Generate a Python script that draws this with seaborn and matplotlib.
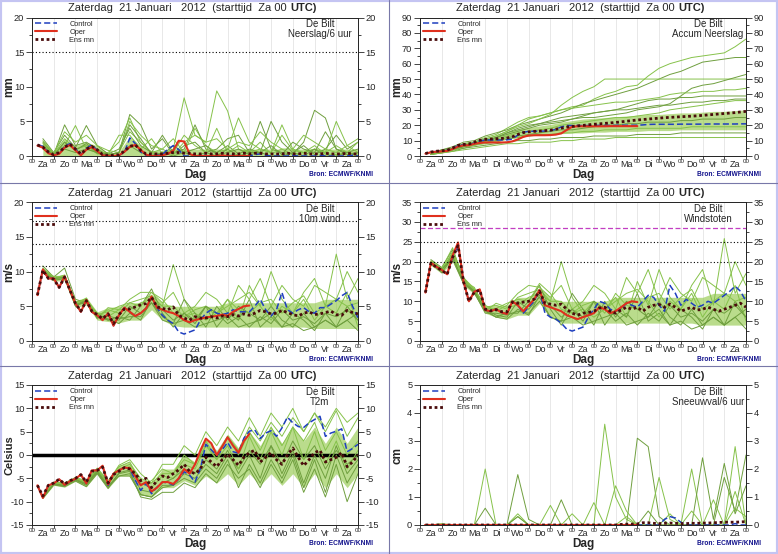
import numpy as np
import pandas as pd
import seaborn as sns
import matplotlib.pyplot as plt
from matplotlib.lines import Line2D
from matplotlib.patches import Rectangle

sns.set_style("ticks")
plt.rcParams['font.family'] = ['Liberation Sans', 'DejaVu Sans']
plt.rcParams['axes.unicode_minus'] = False

# tijdas: 6-uurs stappen, oper tot dag 10, leden op 12-uurs stappen
uren = list(range(6, 361, 6))
uren_oper = list(range(6, 241, 6))
uren_12 = list(range(12, 361, 12))
dagen = ["Za", "Zo", "Ma", "Di", "Wo", "Do", "Vr", "Za", "Zo", "Ma", "Di", "Wo", "Do", "Vr", "Za"]
titel = "Zaterdag  21 Januari   2012  (starttijd  Za 00 "

# ---------------- Neerslag/6 uur ----------------
ctrl_neerslag = [1.6, 1.4, 0.5, 0.1, 0.4, 1.4, 1.8, 1.0, 0.2, 1.1,
                 1.6, 0.8, 0.1, 0.0, 0.0, 0.1, 0.5, 2.6, 1.8, 0.6,
                 0.1, 0.0, 0.1, 0.2, 1.0, 1.5, 0.9, 0.0, 0.0, 0.0,
                 0.0, 0.1, 0.0, 0.0, 0.0, 0.0, 0.1, 0.0, 0.0, 0.0,
                 0.2, 0.3, 0.1, 0.0, 0.0, 0.0, 0.0, 0.1, 0.0, 0.0,
                 0.0, 0.0, 0.1, 0.0, 0.0, 0.0, 0.0, 0.0, 0.1, 0.0]
oper_neerslag = [1.5, 1.2, 0.4, 0.1, 0.3, 1.2, 1.6, 0.8, 0.1, 0.9,
                 1.3, 0.7, 0.1, 0.0, 0.0, 0.1, 0.6, 1.3, 1.6, 0.9,
                 0.2, 0.0, 0.0, 0.1, 0.3, 0.8, 2.2, 2.1, 0.3, 0.0,
                 0.0, 0.0, 0.0, 0.0, 0.1, 0.0, 0.0, 0.0, 0.0, 0.0]
mean_neerslag = [1.6, 1.3, 0.6, 0.2, 0.5, 1.3, 1.7, 1.0, 0.3, 1.0,
                 1.4, 0.9, 0.2, 0.1, 0.1, 0.2, 0.7, 1.4, 1.6, 0.8,
                 0.3, 0.3, 0.3, 0.3, 0.4, 0.5, 0.5, 0.4, 0.4, 0.3,
                 0.3, 0.4, 0.3, 0.3, 0.4, 0.3, 0.3, 0.3, 0.4, 0.3,
                 0.4, 0.4, 0.3, 0.3, 0.3, 0.3, 0.4, 0.3, 0.3, 0.4,
                 0.3, 0.3, 0.3, 0.4, 0.3, 0.3, 0.3, 0.4, 0.3, 0.3]
leden_neerslag = [
    [1.5, 0.3, 2.5, 1.0, 1.5, 0.8, 0.2, 0.5, 3.5, 2.0, 0.5, 0.3, 1.0, 8.4, 3.0, 2.0, 9.4, 6.5, 1.0, 0.5, 2.0, 0.3, 1.0, 0.2, 0.5, 1.5, 0.3, 0.2, 0.5, 0.3],
    [2.0, 0.2, 4.5, 1.5, 2.0, 1.0, 0.1, 0.5, 6.0, 4.5, 1.0, 2.5, 0.2, 1.5, 2.0, 0.5, 1.0, 2.5, 3.0, 0.5, 5.0, 1.0, 0.5, 0.3, 2.0, 6.6, 5.5, 1.0, 0.5, 1.0],
    [1.2, 0.3, 1.5, 4.4, 1.0, 0.5, 0.5, 2.0, 5.5, 2.0, 0.5, 1.0, 2.5, 0.5, 4.0, 1.5, 0.5, 1.0, 5.5, 2.0, 1.0, 0.5, 3.0, 0.8, 0.5, 1.0, 0.5, 5.0, 1.5, 0.5],
    [2.5, 0.5, 3.0, 1.2, 4.4, 1.5, 0.3, 1.0, 4.0, 1.5, 0.5, 3.0, 0.5, 1.0, 4.5, 1.0, 0.5, 1.5, 0.3, 1.0, 0.5, 5.0, 2.0, 0.5, 1.5, 0.2, 1.0, 3.0, 1.0, 2.0],
    [1.8, 0.2, 2.0, 1.0, 1.5, 0.3, 0.2, 3.0, 3.0, 1.0, 2.5, 0.3, 0.5, 3.0, 1.5, 0.5, 4.0, 0.5, 1.5, 0.5, 1.0, 0.5, 4.5, 1.0, 0.5, 1.0, 0.5, 1.5, 0.5, 2.0],
    [1.0, 0.0, 1.0, 0.5, 1.0, 0.5, 0.0, 0.0, 1.5, 0.5, 0.0, 0.5, 0.0, 0.5, 0.0, 0.5, 0.0, 1.0, 0.0, 0.5, 0.5, 0.0, 0.0, 0.5, 0.0, 1.0, 0.0, 0.0, 0.5, 0.0],
    [2.2, 0.4, 3.5, 2.0, 3.0, 1.5, 0.8, 0.5, 5.0, 3.0, 1.5, 1.0, 0.2, 2.0, 3.0, 2.0, 2.5, 1.0, 2.0, 1.5, 3.5, 2.0, 1.0, 1.0, 3.0, 2.0, 1.0, 0.5, 1.5, 2.5],
    [1.4, 0.1, 2.0, 0.8, 1.8, 0.4, 0.2, 0.5, 4.5, 2.5, 0.3, 0.2, 1.5, 0.5, 1.0, 1.5, 0.2, 0.5, 1.0, 0.2, 0.5, 1.5, 0.2, 2.0, 1.0, 0.5, 3.5, 1.0, 0.2, 0.5],
]
band_lo_neerslag = [0.0] * 30
band_hi_neerslag = [2.2, 0.5, 2.5, 1.5, 2.0, 1.5, 0.4, 0.6, 2.8, 1.5, 0.8, 0.8, 1.0, 1.0, 1.0,
                    1.0, 1.0, 1.0, 1.0, 1.0, 1.0, 1.0, 1.0, 1.0, 1.0, 1.0, 1.0, 1.0, 1.0, 1.0]

# ---------------- Accum Neerslag ----------------
ctrl_accum = [1.5, 2.5, 3.0, 3.3, 3.6, 5.0, 6.8, 7.3, 7.4, 8.5,
              9.8, 10.3, 10.4, 10.4, 10.4, 10.5, 11.0, 13.6, 15.4, 16.0,
              16.1, 16.1, 16.2, 16.4, 17.4, 18.9, 19.8, 19.8, 19.8, 19.8,
              19.8, 19.9, 19.9, 19.9, 19.9, 19.9, 20.0, 20.0, 20.0, 20.0,
              20.2, 20.5, 20.6, 20.6, 20.6, 20.6, 20.6, 20.7, 20.7, 20.7,
              20.7, 20.7, 20.8, 20.8, 20.8, 20.8, 20.8, 20.8, 20.9, 20.9]
oper_accum = [1.5, 2.4, 2.8, 3.0, 3.3, 4.5, 6.1, 6.9, 7.0, 7.9,
              8.5, 8.8, 8.8, 8.8, 8.8, 8.9, 9.5, 10.8, 12.4, 13.3,
              13.5, 13.5, 13.5, 13.6, 13.9, 14.7, 16.9, 19.0, 19.3, 19.3,
              19.3, 19.3, 19.3, 19.3, 19.4, 19.4, 19.4, 19.4, 19.4, 19.4]
mean_accum = [1.6, 2.6, 3.1, 3.4, 3.8, 5.2, 6.9, 7.5, 7.8, 9.0,
              10.2, 10.8, 11.0, 11.2, 11.4, 11.7, 12.5, 14.0, 15.2, 15.7,
              16.0, 16.2, 16.5, 16.8, 17.4, 18.1, 18.8, 19.2, 19.6, 19.9,
              20.3, 20.6, 20.9, 21.2, 21.5, 21.8, 22.2, 22.6, 23.0, 23.4,
              23.7, 24.0, 24.3, 24.6, 24.9, 25.1, 25.3, 25.5, 25.7, 25.9,
              26.1, 26.4, 26.7, 27.0, 27.3, 27.6, 27.9, 28.2, 28.6, 29.0]
leden_accum = [
    [2, 4, 5, 8, 9, 12, 14, 18, 22, 25, 26, 28, 30, 32, 33, 37, 40, 42, 45, 46, 52, 57, 60, 62, 64, 65, 66, 67, 71, 76],
    [2, 4, 6, 9, 10, 13, 15, 17, 20, 22, 24, 26, 28, 31, 34, 36, 38, 40, 42, 44, 47, 50, 53, 55, 58, 61, 62, 63, 64, 64],
    [2, 3, 5, 8, 9, 11, 13, 16, 19, 21, 24, 27, 33, 38, 42, 45, 50, 50, 50, 50, 50, 50, 50, 50, 50, 50, 50, 50, 50, 50],
    [1, 3, 4, 7, 8, 10, 12, 15, 18, 20, 21, 22, 23, 24, 25, 25, 26, 27, 28, 30, 31, 32, 34, 39, 44, 46, 47, 49, 51, 53],
    [2, 3, 5, 7, 9, 11, 13, 16, 20, 24, 26, 28, 30, 31, 32, 33, 34, 35, 35, 36, 37, 38, 40, 41, 41, 42, 42, 43, 43, 44],
    [1, 3, 4, 6, 8, 10, 12, 14, 16, 18, 20, 21, 22, 24, 26, 28, 29, 30, 32, 34, 36, 37, 37, 38, 38, 39, 39, 39, 39, 39],
    [2, 3, 5, 7, 8, 10, 11, 13, 15, 16, 17, 18, 20, 21, 22, 23, 24, 25, 25, 26, 27, 28, 30, 31, 32, 33, 34, 35, 36, 36],
    [1, 3, 4, 6, 7, 9, 10, 12, 13, 14, 15, 16, 17, 17, 18, 19, 20, 20, 21, 21, 22, 22, 22, 23, 23, 24, 24, 24, 25, 25],
    [1, 2, 4, 5, 7, 8, 9, 11, 12, 13, 14, 14, 15, 15, 16, 16, 17, 17, 17, 18, 18, 18, 18, 18, 19, 19, 19, 19, 19, 19],
    [1, 2, 3, 5, 6, 7, 8, 9, 10, 10, 11, 11, 12, 12, 12, 13, 13, 13, 13, 14, 14, 14, 14, 15, 15, 15, 15, 15, 15, 15],
    [1, 2, 3, 4, 5, 6, 7, 8, 8, 9, 9, 9, 10, 10, 11, 11, 11, 12, 12, 12, 12, 12, 12, 12, 12, 12, 12, 12, 12, 12],
    [2, 3, 5, 7, 8, 10, 12, 15, 17, 19, 21, 23, 25, 26, 27, 28, 29, 30, 30, 31, 32, 33, 33, 34, 35, 35, 36, 36, 37, 37],
]
band_lo_accum = [1.5, 3, 4, 6, 7, 8.5, 9.5, 11, 12, 13, 13.5, 14, 14.5, 15, 15, 15.5, 15.5, 16, 16, 16,
                 16.5, 16.5, 16.5, 17, 17, 17, 17, 17, 17, 17]
band_hi_accum = [2.5, 4, 5.5, 8, 9, 11, 12, 15, 17.5, 18.5, 19.5, 20.5, 22, 23, 24, 24.5, 25, 25.5, 26, 26.5,
                 27, 27, 27.5, 28, 28, 28.5, 29, 29, 29.5, 30]

# ---------------- 10m wind ----------------
ctrl_wind = [6.6, 10.3, 9.0, 9.0, 7.7, 9.3, 7.3, 5.4, 4.2, 5.9,
             4.2, 3.7, 3.0, 4.0, 2.2, 3.7, 4.8, 4.2, 3.6, 4.0,
             4.7, 6.4, 4.8, 3.7, 3.0, 2.5, 1.3, 1.0, 1.3, 1.6,
             3.0, 4.0, 4.5, 4.0, 3.8, 4.0, 4.5, 4.2, 4.2, 4.2,
             5.0, 6.0, 4.5, 3.6, 4.5, 7.0, 4.5, 4.0, 4.5, 4.8,
             4.2, 4.0, 4.8, 4.8, 5.3, 5.8, 6.5, 7.0, 5.0, 3.3]
oper_wind = [6.6, 10.3, 9.0, 9.0, 7.7, 9.3, 7.3, 5.4, 4.2, 5.9,
             4.2, 3.7, 3.0, 4.0, 2.2, 3.7, 4.8, 4.2, 3.6, 4.0,
             4.7, 6.4, 4.8, 4.5, 4.2, 4.0, 3.6, 3.0, 2.7, 3.0,
             3.2, 3.4, 3.5, 3.6, 3.8, 3.6, 4.2, 4.6, 5.0, 5.1]
mean_wind = [6.6, 10.2, 9.0, 8.9, 7.7, 9.2, 7.3, 5.4, 4.3, 5.8,
             4.3, 3.8, 3.2, 3.9, 2.5, 3.8, 4.6, 4.6, 4.9, 5.2,
             5.4, 6.3, 4.9, 4.7, 4.5, 4.9, 3.7, 3.3, 3.0, 3.5,
             3.3, 3.3, 3.5, 3.3, 3.6, 3.5, 3.8, 3.6, 3.9, 3.7,
             4.0, 4.4, 4.2, 3.9, 4.0, 4.4, 4.1, 3.8, 3.6, 4.0,
             4.2, 3.8, 3.9, 4.1, 4.3, 3.8, 3.7, 4.4, 4.1, 3.9]
leden_wind = [
    [10.5, 9.0, 9.5, 5.5, 6.0, 3.5, 4.5, 4.0, 5.5, 6.0, 6.5, 5.0, 11.0, 6.0, 3.0, 5.0, 4.0, 6.0, 3.0, 8.0, 5.0, 10.0, 6.0, 4.0, 7.0, 9.0, 5.0, 12.5, 6.0, 9.0],
    [10.8, 9.2, 10.5, 6.0, 5.5, 4.0, 3.0, 3.5, 3.0, 5.0, 7.5, 4.0, 2.0, 4.0, 3.0, 5.0, 2.0, 4.0, 3.0, 6.0, 2.0, 3.5, 2.0, 4.0, 3.0, 1.5, 4.0, 2.0, 5.0, 3.0],
    [10.0, 8.8, 9.0, 5.0, 6.2, 3.2, 4.8, 4.5, 4.5, 5.5, 6.0, 5.0, 5.0, 3.5, 4.0, 3.0, 4.0, 5.0, 6.0, 7.0, 5.0, 3.0, 5.0, 4.0, 6.0, 3.0, 5.0, 4.0, 7.0, 2.0],
    [10.2, 9.0, 9.2, 5.2, 5.5, 3.5, 3.0, 3.0, 5.0, 4.0, 5.5, 3.0, 2.5, 6.0, 4.0, 2.0, 5.0, 3.0, 5.0, 4.0, 3.0, 5.0, 3.0, 2.0, 4.0, 2.0, 3.0, 2.0, 3.0, 4.0],
    [10.4, 8.9, 9.4, 5.6, 6.0, 4.0, 3.5, 4.5, 6.0, 7.0, 7.0, 5.5, 7.0, 4.0, 5.0, 7.0, 6.0, 4.0, 8.0, 6.0, 9.0, 5.0, 8.0, 6.0, 5.0, 8.0, 7.0, 6.0, 10.0, 7.0],
    [9.8, 9.0, 9.1, 5.0, 5.8, 3.3, 3.6, 3.2, 3.5, 3.5, 5.5, 3.5, 2.5, 3.0, 2.0, 2.5, 3.0, 3.5, 2.0, 2.5, 3.0, 4.0, 2.0, 2.5, 1.5, 2.0, 3.0, 2.0, 3.0, 1.5],
    [10.3, 9.3, 9.3, 5.4, 6.1, 3.8, 4.2, 5.0, 5.5, 5.0, 7.0, 6.0, 4.0, 3.5, 4.5, 5.0, 3.5, 6.0, 4.5, 4.0, 5.5, 6.0, 4.0, 5.5, 6.5, 4.0, 5.0, 6.0, 5.0, 5.5],
    [10.1, 8.7, 9.0, 5.3, 5.7, 3.4, 3.2, 2.5, 4.0, 3.0, 6.0, 4.5, 3.0, 4.0, 2.5, 5.0, 4.0, 2.5, 3.5, 2.0, 3.5, 2.5, 4.5, 3.0, 3.5, 2.5, 4.0, 3.5, 4.5, 3.0],
]
band_lo_wind = [9.7, 8.6, 8.7, 4.8, 5.2, 3.0, 2.8, 2.6, 3.0, 3.0, 4.5, 3.0, 2.2, 2.0, 2.0,
                2.0, 2.0, 2.0, 2.0, 2.0, 2.0, 2.0, 2.0, 2.0, 2.0, 1.8, 1.8, 1.8, 1.8, 1.8]
band_hi_wind = [10.6, 9.3, 9.6, 5.8, 6.3, 4.2, 4.8, 5.0, 5.5, 5.5, 6.8, 5.5, 5.0, 5.0, 5.0,
                5.0, 5.0, 5.5, 5.5, 5.5, 5.5, 5.5, 5.5, 5.5, 5.5, 5.5, 6.0, 6.0, 6.0, 6.0]
drempels_wind = [10.8, 13.9, 17.2]

# ---------------- Windstoten ----------------
ctrl_stoot = [12.2, 19.7, 18.7, 17.9, 16.8, 21.0, 24.0, 15.0, 10.0, 12.4,
              13.0, 7.8, 7.5, 8.0, 7.2, 6.8, 10.0, 9.0, 7.0, 8.5,
              10.0, 12.8, 7.0, 6.0, 5.5, 4.5, 3.0, 2.5, 3.0, 3.5,
              6.0, 8.0, 10.0, 9.5, 8.0, 7.5, 8.0, 9.5, 9.0, 8.5,
              10.0, 11.5, 11.0, 9.0, 7.5, 14.0, 12.0, 9.0, 10.5, 9.5,
              8.5, 9.0, 10.0, 9.5, 10.5, 11.5, 12.5, 13.8, 12.5, 10.0]
oper_stoot = [12.2, 19.7, 18.7, 17.9, 16.8, 21.5, 24.8, 15.0, 10.0, 12.4,
              13.0, 7.8, 7.5, 8.0, 7.2, 6.8, 10.0, 9.0, 7.5, 9.0,
              10.5, 12.8, 9.0, 8.5, 8.0, 7.5, 6.5, 6.0, 5.5, 6.0,
              6.5, 7.0, 8.5, 8.0, 7.0, 7.5, 8.5, 9.5, 10.0, 9.8]
mean_stoot = [12.2, 19.6, 18.6, 17.8, 16.8, 21.0, 24.0, 15.0, 10.0, 12.3,
              12.8, 8.0, 7.6, 7.9, 7.4, 7.3, 9.8, 9.5, 9.8, 10.0,
              10.5, 12.5, 9.5, 9.3, 9.0, 9.3, 8.0, 7.0, 6.5, 7.0,
              7.2, 7.5, 8.3, 8.5, 7.5, 7.0, 7.8, 8.5, 8.0, 8.5,
              7.5, 8.5, 9.0, 9.2, 8.5, 9.3, 8.5, 7.5, 8.0, 8.5,
              7.8, 8.0, 8.5, 8.0, 7.5, 8.0, 8.5, 9.0, 9.5, 8.5]
leden_stoot = [
    [20.0, 18.0, 22.0, 15.5, 13.0, 8.5, 9.0, 8.0, 11.0, 12.0, 13.0, 10.0, 20.0, 11.0, 7.0, 10.0, 8.0, 11.0, 6.0, 15.0, 9.0, 18.0, 11.0, 8.0, 14.0, 18.0, 9.0, 25.8, 12.0, 17.0],
    [20.5, 18.5, 23.0, 16.0, 12.0, 7.5, 6.0, 7.0, 7.0, 10.0, 14.0, 8.0, 4.0, 8.0, 6.0, 10.0, 4.0, 8.0, 6.0, 12.0, 5.0, 7.0, 4.0, 8.0, 6.0, 3.0, 8.0, 4.0, 10.0, 6.0],
    [19.5, 17.5, 21.0, 15.0, 13.5, 7.5, 9.5, 8.5, 9.0, 11.0, 12.0, 10.0, 10.0, 7.0, 8.0, 6.0, 8.0, 10.0, 12.0, 13.0, 10.0, 6.0, 10.0, 8.0, 12.0, 6.0, 10.0, 8.0, 14.0, 5.0],
    [19.8, 17.8, 21.5, 14.5, 12.5, 8.0, 6.5, 6.0, 10.0, 8.0, 11.0, 6.0, 5.0, 12.0, 8.0, 4.0, 10.0, 6.0, 10.0, 8.0, 6.0, 10.0, 6.0, 4.0, 8.0, 4.0, 6.0, 4.0, 6.0, 8.0],
    [20.2, 17.6, 22.5, 16.0, 13.0, 9.0, 7.5, 9.0, 12.0, 14.0, 13.5, 11.0, 14.0, 8.0, 10.0, 14.0, 12.0, 8.0, 16.0, 12.0, 18.0, 10.0, 16.0, 12.0, 10.0, 16.0, 14.0, 12.0, 20.0, 14.0],
    [19.2, 18.2, 20.5, 14.5, 12.2, 7.0, 7.0, 6.5, 7.5, 7.0, 10.0, 6.0, 5.0, 6.0, 4.0, 5.0, 6.0, 7.0, 4.0, 5.0, 6.0, 8.0, 4.0, 5.0, 3.0, 4.0, 6.0, 4.0, 6.0, 3.0],
    [20.0, 18.3, 23.5, 15.2, 12.8, 8.3, 8.2, 9.5, 10.5, 10.0, 14.5, 12.0, 8.0, 7.0, 9.0, 10.0, 7.0, 12.0, 9.0, 8.0, 11.0, 12.0, 8.0, 11.0, 13.0, 8.0, 10.0, 12.0, 10.0, 11.0],
    [19.6, 17.2, 21.0, 14.8, 12.6, 7.8, 6.0, 5.5, 8.0, 6.5, 11.5, 9.0, 6.0, 8.0, 5.0, 10.0, 8.0, 5.0, 7.0, 4.0, 7.0, 5.0, 9.0, 6.0, 7.0, 5.0, 8.0, 7.0, 9.0, 6.0],
]
band_lo_stoot = [19.0, 17.0, 20.0, 14.0, 11.8, 7.0, 6.0, 5.5, 6.5, 6.5, 9.5, 6.0, 4.5, 4.5, 4.5,
                 4.5, 4.5, 4.5, 4.5, 4.5, 4.5, 4.5, 4.5, 4.5, 4.5, 4.0, 4.0, 4.0, 4.0, 4.0]
band_hi_stoot = [20.5, 18.5, 23.0, 16.0, 13.5, 8.8, 9.0, 9.0, 11.0, 11.0, 13.5, 11.0, 10.0, 10.0, 10.0,
                 10.0, 10.0, 11.0, 11.0, 11.0, 11.0, 11.0, 11.0, 11.0, 11.0, 11.0, 12.0, 12.0, 12.0, 12.0]
drempels_stoot = [20, 25]
storm_stoot = 28.5

# ---------------- T2m ----------------
ctrl_t2m = [-6.5, -9.0, -6.5, -6.1, -5.2, -6.4, -5.6, -5.1, -4.2, -6.1,
            -3.3, -3.3, -2.5, -6.5, -4.0, -3.3, -2.7, -2.9, -5.4, -7.6,
            -6.1, -8.3, -6.9, -5.8, -6.0, -6.4, -5.1, -3.6, -4.3, -5.8,
            -2.9, 2.3, 1.1, -0.1, 1.1, 2.7, 0.7, 0.4, 3.6, 5.1,
            5.4, 3.5, 4.7, 5.2, 4.0, 5.8, 8.1, 6.9, 6.1, 5.9,
            6.9, 7.6, 8.3, 4.0, 4.7, 5.1, 5.6, 0.7, 1.4, 2.3]
oper_t2m = [-6.5, -9.2, -6.5, -6.1, -5.2, -6.4, -5.6, -5.1, -4.2, -6.1,
            -3.3, -3.3, -2.3, -6.3, -4.0, -3.3, -2.7, -2.8, -4.5, -6.5,
            -5.8, -7.8, -7.0, -5.8, -5.8, -6.2, -5.0, -3.0, -4.0, -2.0,
            1.0, 3.5, 2.5, 0.0, 1.8, 3.8, 2.0, 0.5, 3.0, 4.5]
mean_t2m = [-6.5, -8.8, -6.5, -6.0, -5.2, -6.2, -5.5, -5.0, -4.2, -5.8,
            -3.5, -3.3, -2.6, -6.0, -4.2, -3.5, -2.7, -3.0, -4.0, -5.5,
            -5.0, -7.0, -5.5, -4.5, -4.8, -4.0, -3.2, -2.0, -3.5, -4.0,
            -3.0, -0.5, -1.5, -2.5, -1.0, 0.2, -1.0, -2.2, -0.5, 0.5,
            1.0, -1.5, -0.5, 0.5, -1.0, -2.0, 0.0, 1.5, -0.5, -2.3,
            -1.0, 0.5, 1.0, -1.5, -1.0, -0.5, 0.5, -2.5, -1.5, 0.0]
leden_t2m = [
    [-9.0, -6.0, -6.2, -5.0, -6.0, -3.0, -6.0, -3.0, -2.0, -5.0, -6.0, -4.0, -4.0, -1.0, -2.0, 2.0, 0.0, 4.0, 1.0, 6.0, 3.0, 7.0, 4.0, 8.0, 5.0, 9.0, 5.0, 9.5, 4.0, 8.0],
    [-9.2, -6.3, -6.6, -5.4, -6.5, -3.8, -7.0, -4.5, -4.0, -8.5, -9.0, -7.0, -6.5, -4.0, -5.0, -2.0, -4.0, 0.0, -3.0, 1.0, -2.0, 2.0, -2.0, 3.0, -1.0, 2.0, -3.0, 1.0, -2.0, 0.0],
    [-8.8, -5.8, -6.0, -4.8, -5.5, -2.8, -5.5, -2.5, -1.5, -6.0, -7.0, -4.5, -5.0, -2.0, -3.0, 2.0, -1.0, 4.0, 0.0, 5.0, 1.0, 6.0, 2.0, 6.0, 3.0, 7.0, 1.0, 5.0, 0.0, 3.0],
    [-9.1, -6.2, -6.5, -5.3, -6.3, -3.6, -6.8, -4.0, -3.5, -9.0, -9.5, -8.0, -8.0, -6.0, -7.0, -4.0, -6.0, -2.0, -5.0, -3.0, -7.0, -2.0, -6.0, -1.0, -8.0, -3.0, -9.0, -2.0, -10.0, -4.0],
    [-8.9, -6.1, -6.3, -5.1, -6.1, -3.2, -6.3, -3.2, -2.5, -6.5, -5.5, -3.0, -4.0, 0.0, -2.0, 3.0, -1.0, 2.0, -3.0, 4.0, -1.0, 5.0, 0.0, 6.0, -1.0, 5.0, -2.0, 3.0, -3.0, 1.0],
    [-9.3, -6.4, -6.8, -5.6, -6.8, -4.0, -7.2, -3.8, -3.2, -7.5, -8.0, -6.0, -5.0, -3.0, -4.0, -1.0, -3.0, 1.0, -4.0, 0.0, -5.0, 2.0, -4.0, 1.0, -6.0, 0.0, -5.0, 2.0, -4.0, -1.0],
    [-8.7, -5.9, -6.1, -4.9, -5.8, -3.0, -5.8, -2.2, -1.0, -4.0, -6.0, -2.0, -2.0, 2.0, 0.0, 5.0, 2.0, 6.0, 3.0, 8.0, 4.0, 9.0, 6.0, 10.0, 5.0, 9.0, 6.0, 10.0, 7.0, 9.0],
    [-9.0, -6.2, -6.5, -5.2, -6.2, -3.4, -6.6, -4.5, -4.5, -8.5, -9.0, -6.5, -6.5, -5.0, -6.0, -3.0, -5.0, -1.0, -7.0, -2.0, -6.0, -1.0, -5.0, 0.0, -7.0, -1.0, -8.0, 0.0, -6.0, -2.0],
]
band_lo_t2m = [-9.3, -6.5, -6.9, -5.6, -6.8, -4.0, -7.2, -4.5, -4.5, -8.5, -9.0, -7.0, -7.0, -5.5, -6.5,
               -4.5, -6.0, -4.0, -6.5, -4.0, -6.5, -4.0, -6.5, -4.0, -7.0, -4.0, -7.0, -4.0, -7.0, -4.0]
band_hi_t2m = [-8.7, -5.8, -6.0, -4.8, -5.6, -2.8, -5.6, -2.2, -1.5, -5.0, -6.0, -3.0, -3.0, 0.0, -1.5,
               3.5, 1.0, 4.5, 1.5, 5.0, 2.0, 6.0, 2.5, 6.0, 3.0, 6.0, 2.5, 6.0, 2.5, 6.0]

# ---------------- Sneeuwval/6 uur ----------------
ctrl_sneeuw = [0, 0, 0, 0, 0, 0, 0, 0, 0, 0,
               0, 0, 0, 0, 0, 0, 0, 0, 0, 0,
               0, 0, 0, 0, 0, 0, 0, 0, 0, 0,
               0, 0, 0, 0, 0, 0, 0, 0, 0, 0,
               0, 0, 0, 0, 0.2, 0.3, 0.25, 0.1, 0, 0,
               0, 0, 0, 0, 0, 0, 0, 0.05, 0, 0]
oper_sneeuw = [0, 0, 0, 0, 0, 0, 0, 0, 0, 0,
               0, 0, 0, 0, 0, 0, 0, 0, 0, 0,
               0, 0, 0, 0, 0, 0, 0, 0, 0, 0,
               0, 0, 0, 0, 0, 0, 0, 0, 0, 0]
mean_sneeuw = [0, 0, 0, 0, 0, 0, 0, 0, 0, 0,
               0, 0, 0, 0, 0, 0, 0, 0, 0, 0,
               0, 0, 0, 0, 0, 0, 0, 0, 0, 0,
               0, 0, 0, 0, 0, 0, 0.02, 0.03, 0.03, 0.04,
               0.08, 0.08, 0.06, 0.05, 0.06, 0.07, 0.06, 0.05, 0.05, 0.06,
               0.06, 0.07, 0.07, 0.08, 0.09, 0.1, 0.1, 0.1, 0.11, 0.12]
leden_sneeuw = [
    [0, 0, 0, 0, 0, 2.0, 0, 0, 0.3, 0, 0, 0, 0, 0, 0, 0, 3.6, 1.0, 0.2, 0, 0, 0, 0, 0, 0, 0, 0, 0, 2.8, 0],
    [0, 0, 0, 0, 0, 0.6, 0, 0, 1.8, 0.2, 0, 0, 0.9, 0, 0, 0, 0, 0, 0, 3.1, 2.8, 0.3, 0, 0, 0, 0, 0, 1.7, 0.5, 2.5],
    [0, 0.05, 0, 0, 0, 0, 0, 0, 0.4, 0, 0, 0.7, 0, 0, 0, 0.8, 0, 1.4, 0.5, 0, 0, 1.7, 0.2, 0, 2.0, 0, 0, 0, 1.2, 0],
    [0, 0, 0, 0, 0, 0, 0, 0, 0.3, 0, 0, 0, 0, 0, 0, 0, 0, 0, 0, 0, 0.5, 0, 0, 0, 0, 2.4, 0.2, 2.2, 0.4, 1.4],
    [0, 0, 0, 0, 0, 0, 0, 0, 0, 0, 0, 0, 0, 0.4, 0, 0, 0, 0, 0.3, 0, 0, 0, 0.4, 0, 0.5, 0, 0.9, 0, 0.6, 0.3],
]

GROEN = ["#86c24a", "#6f9f3e"]
KERN = "#8cc63f"
BLAUW = "#1f3fbf"
ROOD = "#e0301e"
BRUIN = "#4a0c0c"


def panel(ax, ctrl, oper, mean, leden, blo, bhi, ymin, ymax, stap, naam, eenheid,
          labelx=-0.052, labelsize=8.5):
    if bhi is not None:
        ax.fill_between(uren_12, blo, bhi, color=KERN, alpha=0.6, lw=0)
    for k, lid in enumerate(leden):
        sns.lineplot(x=uren_12, y=lid, ax=ax, color=GROEN[k % 2], lw=0.7)
    sns.lineplot(x=uren, y=ctrl, ax=ax, color=BLAUW, lw=1.1, linestyle=(0, (4, 2)), label="Control")
    sns.lineplot(x=uren_oper, y=oper, ax=ax, color=ROOD, lw=1.5, label="Oper")
    sns.lineplot(x=uren, y=mean, ax=ax, color=BRUIN, lw=2.0, linestyle=(0, (1, 1)), label="Ens mn")

    ax.set_xlim(0, 360)
    ax.set_ylim(ymin, ymax)
    ax.set_yticks(np.arange(ymin, ymax + stap / 2, stap))
    ax.set_yticks(np.arange(ymin, ymax, stap / 2), minor=True)
    ax.set_xticks(range(0, 361, 24))
    ax.set_xticklabels(["00"] * 16, fontsize=4.5)
    ax.set_xticks(range(12, 360, 24), minor=True)
    ax.set_xticklabels(dagen, minor=True, fontsize=6.5)
    ax.tick_params(axis="x", which="major", length=2, pad=0.5, width=0.6)
    ax.tick_params(axis="x", which="minor", length=0, pad=3)
    ax.tick_params(axis="y", which="both", right=True, labelright=True, labelsize=6.7,
                   width=0.6, pad=1.5)
    ax.tick_params(axis="y", which="major", length=4)
    ax.tick_params(axis="y", which="minor", length=2)
    ax.grid(axis="x", which="major", color="#e4e4e4", lw=0.6)
    for s in ax.spines.values():
        s.set_linewidth(0.7)
        s.set_color("#222222")

    ax.set_ylabel(eenheid, fontsize=labelsize, fontweight="bold")
    ax.yaxis.set_label_coords(labelx, 0.5)
    ax.set_xlabel("Dag", fontsize=8.5, fontweight="bold", labelpad=0)
    ax.text(0.79, 1.066, titel, transform=ax.transAxes, ha="right", va="center", fontsize=8)
    ax.text(0.793, 1.066, "UTC)", transform=ax.transAxes, ha="left", va="center",
            fontsize=8, fontweight="bold")
    ax.text(0.883, 0.953, "De Bilt", transform=ax.transAxes, ha="center", va="center", fontsize=7)
    ax.text(0.883, 0.879, naam, transform=ax.transAxes, ha="center", va="center", fontsize=7)
    ax.text(1.045, -0.13, "Bron: ECMWF/KNMI", transform=ax.transAxes, ha="right", va="center",
            fontsize=4.8, color="#12128c", fontweight="bold")
    ax.legend(loc="upper left", frameon=False, fontsize=5.3, handlelength=3.0,
              handletextpad=1.6, labelspacing=0.1, borderaxespad=0.25, borderpad=0.2)


fig = plt.figure(figsize=(7.78, 5.54), dpi=100)
W, H = 778, 554
kol = [32, 420]
rij = [(17.5, 156), (202, 341), (385, 525)]
assen = []
for top, bodem in rij:
    for links in kol:
        assen.append(fig.add_axes([links / W, 1 - bodem / H, 326 / W, (bodem - top) / H]))

a1, a2, a3, a4, a5, a6 = assen
panel(a1, ctrl_neerslag, oper_neerslag, mean_neerslag, leden_neerslag, band_lo_neerslag,
      band_hi_neerslag, 0, 20, 5, "Neerslag/6 uur", "mm")
a1.axhline(15, color="black", ls=(0, (1, 2)), lw=0.8)

panel(a2, ctrl_accum, oper_accum, mean_accum, leden_accum, band_lo_accum, band_hi_accum,
      0, 90, 10, "Accum Neerslag", "mm")

panel(a3, ctrl_wind, oper_wind, mean_wind, leden_wind, band_lo_wind, band_hi_wind,
      0, 20, 5, "10m wind", "m/s")
for d in drempels_wind:
    a3.axhline(d, color="black", ls=(0, (1, 2)), lw=0.8)

panel(a4, ctrl_stoot, oper_stoot, mean_stoot, leden_stoot, band_lo_stoot, band_hi_stoot,
      0, 35, 5, "Windstoten", "m/s")
for d in drempels_stoot:
    a4.axhline(d, color="black", ls=(0, (1, 2)), lw=0.8)
a4.axhline(storm_stoot, color="#c23fc2", ls=(0, (4, 2)), lw=0.9)

panel(a5, ctrl_t2m, oper_t2m, mean_t2m, leden_t2m, band_lo_t2m, band_hi_t2m,
      -15, 15, 5, "T2m", "Celsius", labelx=-0.053, labelsize=8)
a5.axhline(0, color="black", lw=2.5, zorder=1.5)

panel(a6, ctrl_sneeuw, oper_sneeuw, mean_sneeuw, leden_sneeuw, None, None,
      0, 5, 1, "Sneeuwval/6 uur", "cm")

# kaders rond de zes vakken
for x in [0.5]:
    fig.add_artist(Line2D([x, x], [0, 1], transform=fig.transFigure, color="#7878a8", lw=0.8))
for y in [1 - 183 / H, 1 - 366 / H]:
    fig.add_artist(Line2D([0, 1], [y, y], transform=fig.transFigure, color="#7878a8", lw=0.8))
fig.add_artist(Rectangle((0, 0), 1, 1, transform=fig.transFigure, fill=False,
                         edgecolor="#c4c4f2", lw=3))

fig.savefig("out.png", dpi=100)
